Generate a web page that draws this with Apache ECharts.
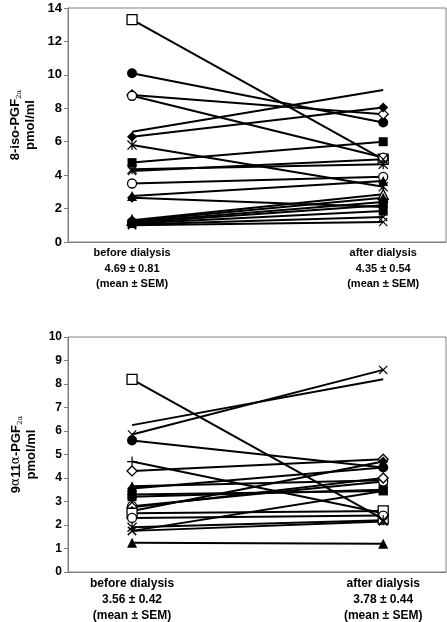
<!DOCTYPE html>
<html>
<head>
<meta charset="utf-8">
<script src="https://cdn.jsdelivr.net/npm/echarts@6/dist/echarts.min.js"></script>
<style>html,body{margin:0;padding:0;background:#fff}#c{width:447px;height:622px}</style>
</head>
<body>
<div id="c"></div>
<script>
var categories = ['before dialysis', 'after dialysis'];
var topStats = ['4.69 ± 0.81', '4.35 ± 0.54'];
var botStats = ['3.56 ± 0.42', '3.78 ± 0.44'];
var semLabel = '(mean ± SEM)';
var topTicks = [0, 2, 4, 6, 8, 10, 12, 14];
var botTicks = [0, 1, 2, 3, 4, 5, 6, 7, 8, 9, 10];

var topBefore = [13.3, 10.1, 8.8, 8.75, 6.6, 6.3, 5.8, 4.75, 4.35, 4.25, 3.5, 2.75, 2.65, 1.3, 1.25, 1.2, 1.15, 1.1, 1.05, 1.0];
var topAfter  = [4.95, 7.15, 7.65, 5.05, 9.1, 8.05, 3.3, 6.0, 4.65, 4.95, 3.9, 3.65, 2.1, 2.85, 2.65, 2.4, 2.2, 1.85, 1.5, 1.2];
var topMarks  = ['sqo', 'cf', 'do', 'co', 'none', 'df', 'ast', 'sf', 'ast', 'x', 'co', 'tf', 'df', 'to', 'tf', 'cf', 'df', 'sf', 'x', 'x'];

var botBefore = [8.2, 6.25, 5.85, 5.6, 4.7, 4.3, 3.65, 3.55, 3.3, 3.2, 2.8, 2.75, 2.6, 2.5, 2.3, 1.9, 1.75, 1.75, 1.25];
var botAfter  = [2.25, 8.2, 8.6, 4.45, 2.5, 4.8, 3.9, 4.45, 3.45, 3.5, 3.85, 4.0, 4.7, 2.6, 2.4, 2.2, 2.15, 3.45, 1.2];
var botMarks  = ['sqo', 'none', 'x', 'cf', 'plus', 'do', 'tf', 'df', 'sf', 'sf', 'co', 'do', 'df', 'sqo', 'co', 'ast', 'x', 'x', 'tf'];

var P_X = 'path://M0,0.9 L0.9,0 L5,4.1 L9.1,0 L10,0.9 L5.9,5 L10,9.1 L9.1,10 L5,5.9 L0.9,10 L0,9.1 L4.1,5 Z';
var P_PLUS = 'path://M4.4,0 H5.6 V4.4 H10 V5.6 H5.6 V10 H4.4 V5.6 H0 V4.4 H4.4 Z';
var P_AST = 'path://M0,0.9 L0.9,0 L5,4.1 L9.1,0 L10,0.9 L5.9,5 L10,9.1 L9.1,10 L5,5.9 L0.9,10 L0,9.1 L4.1,5 Z M4.4,0 H5.6 V10 H4.4 Z';

function markStyle(m) {
  var s = {symbol: 'circle', size: 9, fill: '#000'};
  switch (m) {
    case 'sqo': s.symbol = 'rect'; s.size = 10; s.fill = '#fff'; break;
    case 'sf': s.symbol = 'rect'; s.size = 9; break;
    case 'cf': s.symbol = 'circle'; s.size = 10; break;
    case 'co': s.symbol = 'circle'; s.size = 9; s.fill = '#fff'; break;
    case 'df': s.symbol = 'diamond'; s.size = 10; break;
    case 'do': s.symbol = 'diamond'; s.size = 10; s.fill = '#fff'; break;
    case 'tf': s.symbol = 'triangle'; s.size = 10; break;
    case 'to': s.symbol = 'triangle'; s.size = 10; s.fill = '#fff'; break;
    case 'x': s.symbol = P_X; s.size = 9; break;
    case 'plus': s.symbol = P_PLUS; s.size = 10; break;
    case 'ast': s.symbol = P_AST; s.size = 10; break;
    case 'none': s.symbol = 'none'; break;
  }
  return s;
}

function makeSeries(before, after, marks, idx) {
  var out = [];
  for (var i = 0; i < before.length; i++) {
    var st = markStyle(marks[i]);
    var hollow = st.fill === '#fff';
    out.push({
      type: 'line',
      xAxisIndex: idx, yAxisIndex: idx,
      data: [[0, before[i]], [1, after[i]]],
      symbol: st.symbol,
      symbolSize: st.size,
      showAllSymbol: true,
      lineStyle: {color: '#000', width: 2},
      itemStyle: {color: st.fill, borderColor: '#000', borderWidth: hollow ? 1.3 : 0},
      emphasis: {disabled: true},
      silent: true,
      z: 2
    });
  }
  return out;
}

var FONT = '"Liberation Sans", Arial, sans-serif';

function xAxisFor(idx, stats, fs, lh) {
  return {
    type: 'value', gridIndex: idx, min: -0.255, max: 1.25,
    axisLine: {show: true, onZero: false, lineStyle: {color: '#808080', width: 1}},
    axisTick: {show: false},
    splitLine: {show: false},
    axisLabel: {
      show: true,
      customValues: [0, 1],
      margin: 3,
      formatter: function (v) {
        var k = Math.round(v);
        return '{c|' + categories[k] + '}\n{m|' + stats[k] + '}\n{m|' + semLabel + '}';
      },
      rich: {
        c: {fontFamily: FONT, fontWeight: 'bold', fontSize: fs, lineHeight: lh + 1, color: '#000'},
        m: {fontFamily: FONT, fontWeight: 'bold', fontSize: fs, lineHeight: lh, color: '#000'}
      }
    }
  };
}

function yAxisFor(idx, ticks, name, fs, gap, nameFs) {
  return {
    type: 'value', gridIndex: idx,
    min: ticks[0], max: ticks[ticks.length - 1], interval: ticks[1] - ticks[0],
    axisLine: {show: true, onZero: false, lineStyle: {color: '#808080', width: 1}},
    axisTick: {show: true, length: 4, lineStyle: {color: '#808080'}},
    splitLine: {show: false},
    axisLabel: {fontFamily: FONT, fontWeight: 'bold', fontSize: fs, color: '#000', margin: 6},
    name: name,
    nameLocation: 'middle',
    nameRotate: 90,
    nameGap: gap,
    nameTextStyle: {
      rich: {
        b: {fontFamily: FONT, fontWeight: 'bold', fontSize: nameFs, color: '#000', lineHeight: 15},
        a: {fontFamily: '"DejaVu Serif", serif', fontSize: nameFs - 1, color: '#000', lineHeight: 15},
        s: {fontFamily: '"DejaVu Serif", serif', fontSize: 7, color: '#000', lineHeight: 15, verticalAlign: 'bottom'}
      }
    }
  };
}

var chart = echarts.init(document.getElementById('c'), null, {renderer: 'canvas'});
chart.setOption({
  animation: false,
  backgroundColor: '#fff',
  grid: [
    {left: 68, right: 1, top: 8, height: 234, show: true, borderColor: '#808080', borderWidth: 1, backgroundColor: 'transparent'},
    {left: 68, right: 1, top: 337, height: 236, show: true, borderColor: '#808080', borderWidth: 1, backgroundColor: 'transparent'}
  ],
  xAxis: [xAxisFor(0, topStats, 11, 15), xAxisFor(1, botStats, 12, 16)],
  yAxis: [
    yAxisFor(0, topTicks, '{b|8-iso-PGF}{s|2α}\n{b|pmol/ml}', 13, 29, 13),
    yAxisFor(1, botTicks, '{b|9}{a|α}{b|11}{a|α}{b|-PGF}{s|2α}\n{b|pmol/ml}', 12, 29, 13)
  ],
  series: makeSeries(topBefore, topAfter, topMarks, 0).concat(makeSeries(botBefore, botAfter, botMarks, 1))
});
</script>
</body>
</html>
